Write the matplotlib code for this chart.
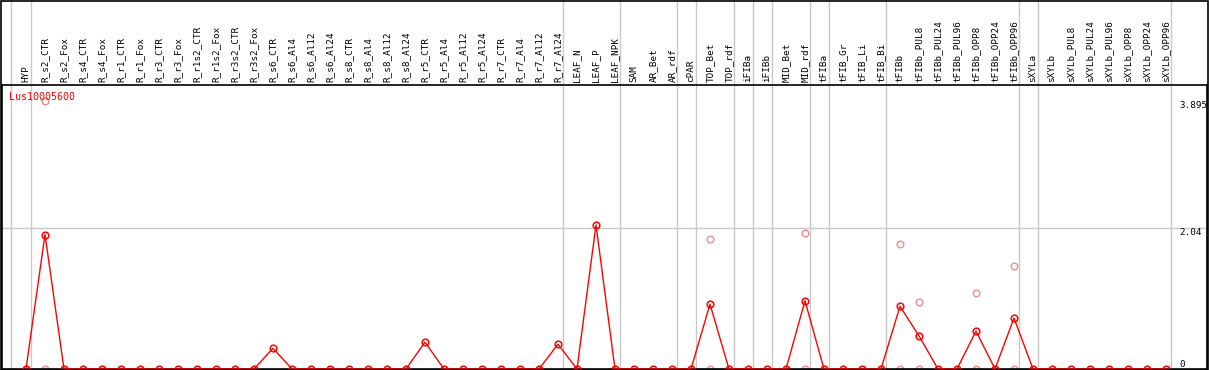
import numpy as np
import matplotlib
matplotlib.use("Agg")
import matplotlib.pyplot as plt
from matplotlib.transforms import blended_transform_factory
from matplotlib.patches import Rectangle

gene = "Lus10005600"

labels = ["HYP", "R_s2_CTR", "R_s2_Fox", "R_s4_CTR", "R_s4_Fox", "R_r1_CTR", "R_r1_Fox",
          "R_r3_CTR", "R_r3_Fox", "R_r1s2_CTR", "R_r1s2_Fox", "R_r3s2_CTR", "R_r3s2_Fox",
          "R_s6_CTR", "R_s6_Al4", "R_s6_Al12", "R_s6_Al24", "R_s8_CTR", "R_s8_Al4",
          "R_s8_Al12", "R_s8_Al24", "R_r5_CTR", "R_r5_Al4", "R_r5_Al12", "R_r5_Al24",
          "R_r7_CTR", "R_r7_Al4", "R_r7_Al12", "R_r7_Al24", "LEAF_N", "LEAF_P", "LEAF_NPK",
          "SAM", "AR_Bet", "AR_rdf", "cPAR", "TOP_Bet", "TOP_rdf", "iFIBa", "iFIBb",
          "MID_Bet", "MID_rdf", "tFIBa", "tFIB_Gr", "tFIB_Li", "tFIB_Bi", "tFIBb",
          "tFIBb_PUL8", "tFIBb_PUL24", "tFIBb_PUL96", "tFIBb_OPP8", "tFIBb_OPP24",
          "tFIBb_OPP96", "sXYLa", "sXYLb", "sXYLb_PUL8", "sXYLb_PUL24", "sXYLb_PUL96",
          "sXYLb_OPP8", "sXYLb_OPP24", "sXYLb_OPP96"]

values = [0, 1.95, 0, 0, 0, 0, 0, 0, 0, 0, 0, 0, 0,
          0.30, 0, 0, 0, 0, 0, 0, 0,
          0.39, 0, 0, 0, 0, 0, 0, 0.36,
          0, 2.09, 0,
          0, 0, 0, 0, 0.94, 0, 0, 0, 0, 0.99, 0,
          0, 0, 0, 0.91, 0.48, 0, 0, 0.55, 0, 0.74,
          0, 0, 0, 0, 0, 0, 0, 0]

rep_labels = ["R_s2_CTR", "TOP_Bet", "MID_rdf", "tFIBb", "tFIBb_PUL8", "tFIBb_OPP8", "tFIBb_OPP96"]
rep_high = [3.895, 1.88, 1.97, 1.82, 0.97, 1.10, 1.49]
rep_low = [0, 0, 0, 0, 0, 0, 0]

group_sizes = [1, 28, 3, 3, 1, 2, 1, 1, 2, 1, 3, 7, 1, 7]
ytick_vals = [3.895, 2.04, 0]
ytick_text = ["3.895", "2.04", "0"]

W, H = 1209, 370
fig = plt.figure(figsize=(W / 100, H / 100), dpi=100)
# plot region in pixels: x 2..1207, y 85..369 (from top)
ax = fig.add_axes([2 / W, (H - 369) / H, 1205 / W, 284 / H])

x = np.arange(len(labels))
gray = "#c8c8c8"
red = "#ff0000"
pink = "#f08c8c"

ax.set_xlim(-1.263, 62.158)
ax.set_ylim(0, 3.895 * 284 / 268.5)
ax.set_xticks([])
ax.set_yticks([])
for s in ax.spines.values():
    s.set_color("black")
    s.set_linewidth(1.2)

# grid line
ax.axhline(2.04, color=gray, lw=1.0, zorder=0)

# vertical group separators (extend into label area)
bounds = [-0.8] + list(np.cumsum(group_sizes) - 1 + 0.25)
for b in bounds:
    ax.axvline(b, ymin=0, ymax=1.4, color=gray, lw=1.0, zorder=0, clip_on=False)

# replicates
rx = [labels.index(l) for l in rep_labels]
ax.plot(rx, rep_high, linestyle="none", marker="o", ms=4.8, mfc="none", mec=pink, mew=1.0, zorder=2)
ax.plot(rx, rep_low, linestyle="none", marker="o", ms=4.8, mfc="none", mec=pink, mew=1.0, zorder=2)

# main series
ax.plot(x, values, color=red, lw=1.0, marker="o", ms=4.8, mfc="none", mec=red, mew=1.1, zorder=3)

# column labels
tr = blended_transform_factory(ax.transData, ax.transAxes)
for i, lab in enumerate(labels):
    ax.text(i, 1 + 2.5 / 284, lab, rotation=90, ha="center", va="bottom", transform=tr,
            fontsize=6.7, family="DejaVu Sans Mono", clip_on=False)

# right value labels
tr2 = blended_transform_factory(ax.transAxes, ax.transData)
for v, t in zip(ytick_vals, ytick_text):
    ax.text((1179 - 2) / 1205, v, t, ha="left", va="bottom" if v == 0 else "top",
            transform=tr2, fontsize=6.7, family="DejaVu Sans Mono")

# gene name
fig.text(9.5 / W, 1 - 97.5 / H, gene, ha="left", va="center", color=red,
         fontsize=7.2, family="DejaVu Sans Mono")

# outer border
fig.patches.append(Rectangle((0.5 / W, 0.5 / H), 1 - 1.5 / W, 1 - 1 / H, transform=fig.transFigure,
                             fill=False, edgecolor="black", lw=1.2))

fig.savefig("out.png", dpi=100)
